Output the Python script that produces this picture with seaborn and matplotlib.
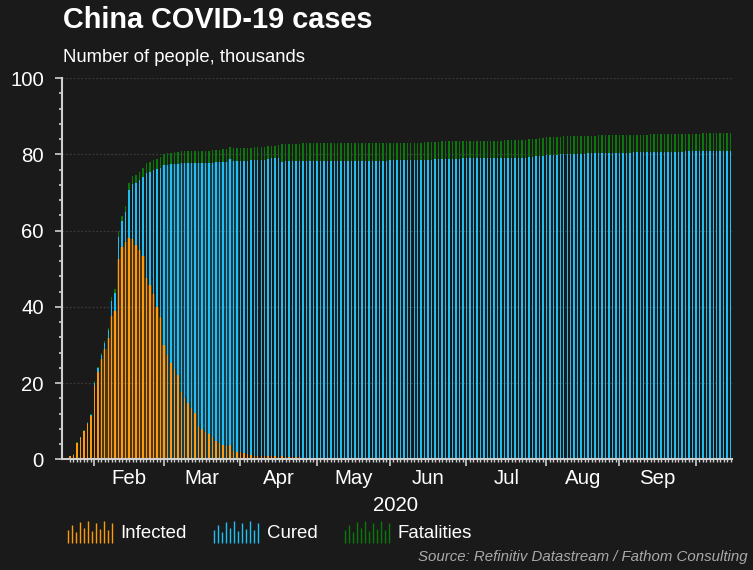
import numpy as np
import pandas as pd
import matplotlib
matplotlib.use("Agg")
import matplotlib.pyplot as plt
import matplotlib.transforms as mtransforms
from matplotlib.legend_handler import HandlerBase
from matplotlib.lines import Line2D
from matplotlib.patches import Patch
from matplotlib.ticker import FixedLocator, MultipleLocator, NullFormatter
import seaborn as sns

# ---------------- data (thousands of people, business days) ----------------
start_date = "2020-01-23"
end_date = "2020-10-15"

confirmed = [
    # Jan
    0.830, 1.287, 4.515, 5.974, 7.711, 9.692, 11.791,
    # Feb
    20.438, 24.324, 28.018, 31.161, 34.546, 42.638, 44.653, 59.804, 63.851, 66.492,
    72.436, 74.185, 74.576, 75.465, 76.288, 77.658, 78.064, 78.497, 78.824, 79.251,
    # Mar
    80.151, 80.270, 80.409, 80.552, 80.651, 80.754, 80.778, 80.793, 80.813, 80.824,
    80.860, 80.894, 80.928, 80.967, 81.008, 81.171, 81.218, 81.285, 81.340, 81.950,
    81.518, 81.554,
    # Apr
    81.589, 81.620, 81.639, 81.740, 81.802, 81.865, 81.907, 81.953, 82.160, 82.249,
    82.295, 82.341, 82.692, 82.747, 82.758, 82.788, 82.798, 82.804, 82.830, 82.836,
    82.858, 82.862,
    # May
    82.874, 82.880, 82.881, 82.883, 82.885, 82.886, 82.918, 82.919, 82.926, 82.929,
    82.933, 82.954, 82.960, 82.965, 82.967, 82.971, 82.985, 82.992, 82.993, 82.995,
    83.001,
    # Jun
    83.017, 83.021, 83.022, 83.027, 83.030, 83.040, 83.043, 83.046, 83.057, 83.064,
    83.181, 83.221, 83.265, 83.293, 83.325, 83.396, 83.418, 83.430, 83.449, 83.462,
    83.512, 83.531,
    # Jul
    83.534, 83.537, 83.542, 83.565, 83.572, 83.581, 83.585, 83.587, 83.602, 83.605,
    83.612, 83.622, 83.644, 83.693, 83.707, 83.729, 83.750, 83.784, 83.891, 83.959,
    84.060, 84.165, 84.292,
    # Aug
    84.464, 84.491, 84.528, 84.565, 84.596, 84.668, 84.688, 84.712, 84.737, 84.756,
    84.808, 84.827, 84.849, 84.871, 84.888, 84.951, 84.967, 84.981, 85.004, 85.013,
    85.058,
    # Sep
    85.066, 85.077, 85.087, 85.097, 85.134, 85.144, 85.153, 85.163, 85.174, 85.194,
    85.202, 85.214, 85.223, 85.255, 85.291, 85.297, 85.307, 85.322, 85.337, 85.384,
    85.403, 85.414,
    # Oct
    85.424, 85.434, 85.470, 85.475, 85.485, 85.494, 85.505, 85.557, 85.568, 85.578,
    85.591,
]

fatalities = [
    # Jan
    0.025, 0.041, 0.106, 0.132, 0.170, 0.213, 0.259,
    # Feb
    0.425, 0.490, 0.563, 0.636, 0.722, 1.016, 1.113, 1.367, 1.380, 1.523,
    1.868, 2.004, 2.118, 2.236, 2.345, 2.663, 2.715, 2.744, 2.788, 2.835,
    # Mar
    2.943, 2.981, 3.012, 3.042, 3.070, 3.136, 3.158, 3.169, 3.176, 3.189,
    3.213, 3.226, 3.245, 3.248, 3.255, 3.277, 3.281, 3.287, 3.292, 3.295,
    3.305, 3.312,
    # Apr
    3.318, 3.322, 3.326, 3.331, 3.333, 3.335, 3.336, 3.339, 3.341, 3.341,
    3.342, 3.342, 4.632, 4.632, 4.632, 4.632, 4.632, 4.632, 4.633, 4.633,
    4.633, 4.633,
    # May
    4.633, 4.633, 4.633, 4.633, 4.633, 4.633, 4.633, 4.633, 4.633, 4.633,
    4.634, 4.634, 4.634, 4.634, 4.634, 4.634, 4.634, 4.634, 4.634, 4.634,
    4.634,
    # Jun
    4.634, 4.634, 4.634, 4.634, 4.634, 4.634, 4.634, 4.634, 4.634, 4.634,
    4.634, 4.634, 4.634, 4.634, 4.634, 4.634, 4.634, 4.634, 4.634, 4.634,
    4.634, 4.634,
    # Jul
    4.634, 4.634, 4.634, 4.634, 4.634, 4.634, 4.634, 4.634, 4.634, 4.634,
    4.634, 4.634, 4.634, 4.634, 4.634, 4.634, 4.634, 4.634, 4.634, 4.634,
    4.634, 4.634, 4.634,
    # Aug
    4.634, 4.634, 4.634, 4.634, 4.634, 4.634, 4.634, 4.634, 4.634, 4.634,
    4.634, 4.634, 4.634, 4.634, 4.634, 4.634, 4.634, 4.634, 4.634, 4.634,
    4.634,
    # Sep
    4.634, 4.634, 4.634, 4.634, 4.634, 4.634, 4.634, 4.634, 4.634, 4.634,
    4.634, 4.634, 4.634, 4.634, 4.634, 4.634, 4.634, 4.634, 4.634, 4.634,
    4.634, 4.634,
    # Oct
    4.634, 4.634, 4.634, 4.634, 4.634, 4.634, 4.634, 4.634, 4.634, 4.634,
    4.634,
]

infected = [
    # Jan
    0.771, 1.208, 4.349, 5.739, 7.417, 9.308, 11.289,
    # Feb
    19.381, 22.942, 26.302, 28.985, 31.774, 37.626, 38.800, 52.526, 55.748, 56.873,
    58.016, 57.805, 56.303, 54.965, 53.284, 47.672, 45.604, 43.258, 39.919, 37.414,
    # Mar
    30.004, 27.433, 25.352, 23.784, 22.177, 17.721, 16.145, 14.831, 13.526, 12.094,
    8.8, 7.9, 7.2, 6.6, 5.8, 4.9, 4.3, 3.8, 3.6, 3.7,
    2.1, 1.9,
    # Apr
    1.9, 1.6, 1.4, 1.1, 1.0, 1.0, 0.9, 0.8, 1.0, 0.8,
    0.85, 0.75, 0.8, 0.7, 0.65, 0.6, 0.55, 0.5, 0.45, 0.45,
    0.4, 0.4,
    # May
    0.35, 0.3, 0.28, 0.25, 0.22, 0.2, 0.15, 0.13, 0.12, 0.11,
    0.1, 0.09, 0.09, 0.08, 0.08, 0.08, 0.07, 0.07, 0.07, 0.06,
    0.06,
    # Jun
    0.06, 0.06, 0.06, 0.06, 0.06, 0.06, 0.06, 0.06, 0.07, 0.08,
    0.15, 0.17, 0.2, 0.22, 0.25, 0.28, 0.35, 0.36, 0.38, 0.38,
    0.4, 0.4,
    # Jul
    0.4, 0.38, 0.38, 0.36, 0.35, 0.34, 0.32, 0.3, 0.2, 0.18,
    0.17, 0.16, 0.16, 0.17, 0.18, 0.19, 0.2, 0.22, 0.26, 0.3,
    0.36, 0.4, 0.42,
    # Aug
    0.45, 0.45, 0.46, 0.46, 0.46, 0.45, 0.44, 0.42, 0.4, 0.4,
    0.38, 0.35, 0.25, 0.22, 0.2, 0.18, 0.17, 0.16, 0.15, 0.15,
    0.14,
    # Sep
    0.14, 0.14, 0.13, 0.13, 0.13, 0.12, 0.12, 0.12, 0.12, 0.12,
    0.11, 0.11, 0.11, 0.11, 0.11, 0.11, 0.11, 0.11, 0.11, 0.11,
    0.11, 0.11,
    # Oct
    0.11, 0.11, 0.11, 0.12, 0.12, 0.12, 0.12, 0.13, 0.13, 0.13,
    0.13,
]

series_labels = ["Infected", "Cured", "Fatalities"]
month_names = ["Jan", "Feb", "Mar", "Apr", "May", "Jun", "Jul", "Aug", "Sep", "Oct"]
year_label = "2020"
title_text = "China COVID-19 cases"
subtitle_text = "Number of people, thousands"
source_text = "Source: Refinitiv Datastream / Fathom Consulting"

# ---------------- style ----------------
BG = "#1a1a1a"
ORANGE = "#FF9A0A"
BLUE = "#1CC0F4"
GREEN = "#0A780A"
AXIS_COL = "#cfcfcf"
TICK_FS = 14.7

sns.set_theme(style="dark")
plt.rcParams["font.family"] = ["Liberation Sans", "DejaVu Sans"]
plt.rcParams["axes.facecolor"] = BG
plt.rcParams["figure.facecolor"] = BG

dates = pd.bdate_range(start_date, end_date)
n = len(dates)
assert n == len(confirmed) == len(fatalities) == len(infected)

conf = np.array(confirmed)
fat = np.array(fatalities)
inf = np.array(infected)
cured = conf - fat - inf

df = pd.DataFrame({
    "pos": np.arange(n),
    "total": conf,                 # infected + cured + fatalities
    "inf_cured": inf + cured,      # infected + cured
    "infected": inf,
})

# faint "glow" between bars seen in the reference rendering
glow_inf = df["infected"].where((df["pos"] >= 9) & (df["pos"] <= 27))
glow_cur = df["inf_cured"].where((df["pos"] >= 27) & (df["pos"] <= 48))
df["glow_inf"] = glow_inf
df["glow_cur"] = glow_cur

W, H = 753, 570
fig = plt.figure(figsize=(W / 100, H / 100), dpi=100, facecolor=BG)
ax_l, ax_r, ax_t, ax_b = 62, 731.7, 78, 459.4
ax = fig.add_axes([ax_l / W, 1 - ax_b / H, (ax_r - ax_l) / W, (ax_b - ax_t) / H])
ax.set_facecolor(BG)

sns.barplot(data=df, x="pos", y="glow_cur", color=BLUE, width=1.0, linewidth=0,
            saturation=1, errorbar=None, ax=ax, alpha=0.2)
sns.barplot(data=df, x="pos", y="glow_inf", color=ORANGE, width=1.0, linewidth=0,
            saturation=1, errorbar=None, ax=ax, alpha=0.22)

bw = 0.42
sns.barplot(data=df, x="pos", y="total", color=GREEN, width=bw, linewidth=0,
            saturation=1, errorbar=None, ax=ax)
sns.barplot(data=df, x="pos", y="inf_cured", color=BLUE, width=bw, linewidth=0,
            saturation=1, errorbar=None, ax=ax)
sns.barplot(data=df, x="pos", y="infected", color=ORANGE, width=bw, linewidth=0,
            saturation=1, errorbar=None, ax=ax)

ax.set_xlim(-2.3, n - 1 + 0.3)
ax.set_ylim(0, 100)
ax.set_xlabel("")
ax.set_ylabel("")

# month-start ticks (major) and daily ticks (minor)
months = dates.month.values
month_starts = [i for i in range(1, n) if months[i] != months[i - 1]]
ax.xaxis.set_major_locator(FixedLocator(month_starts))
ax.xaxis.set_minor_locator(FixedLocator(list(range(n))))
ax.xaxis.set_major_formatter(NullFormatter())
ax.xaxis.set_minor_formatter(NullFormatter())

ax.yaxis.set_major_locator(MultipleLocator(20))
ax.yaxis.set_minor_locator(MultipleLocator(4))
ax.tick_params(axis="y", which="major", direction="out", length=5, width=1.2,
               color=AXIS_COL, labelcolor="white", labelsize=TICK_FS, pad=8.0)
ax.tick_params(axis="y", which="minor", direction="out", length=2.5, width=1.2,
               color=AXIS_COL)
ax.tick_params(axis="x", which="major", direction="out", length=5, width=1.2,
               color=AXIS_COL)
ax.tick_params(axis="x", which="minor", direction="out", length=2.5, width=1.0,
               color=AXIS_COL)
ax.tick_params(left=True, bottom=True, which="both")

for s in ["top", "right"]:
    ax.spines[s].set_visible(False)
for s in ["left", "bottom"]:
    ax.spines[s].set_visible(True)
    ax.spines[s].set_color(AXIS_COL)
    ax.spines[s].set_linewidth(1.5)

ax.grid(False)
ax.yaxis.grid(True, which="major", linestyle=(0, (1.5, 1.5)), color="#3a3a3a", linewidth=0.9)
ax.set_axisbelow(True)

# month labels centred within each complete month
trans = mtransforms.blended_transform_factory(ax.transData, ax.transAxes)
for k in range(len(month_starts) - 1):
    s, e = month_starts[k], month_starts[k + 1]
    name = month_names[months[s] - 1]
    ax.text((s + e) / 2, -(484.5 - ax_b) / (ax_b - ax_t), name, transform=trans,
            ha="center", va="baseline", color="white", fontsize=TICK_FS)

fig.text(395 / W, 1 - 511 / H, year_label, ha="center", va="baseline",
         color="white", fontsize=TICK_FS)

fig.text(63 / W, 1 - 28.5 / H, title_text, ha="left", va="baseline",
         color="white", fontsize=20.8, fontweight="bold")
fig.text(63 / W, 1 - 62.3 / H, subtitle_text, ha="left", va="baseline",
         color="white", fontsize=13.3)
fig.text(748 / W, 1 - 561.5 / H, source_text, ha="right", va="baseline",
         color="#a9a9a9", fontsize=10.8, fontstyle="italic")


# legend with mini bar-series icons
class BarsHandler(HandlerBase):
    heights = [0.6, 0.85, 0.5, 0.95, 0.7, 1.0, 0.55, 0.9, 0.65, 1.0, 0.6, 0.9]

    def create_artists(self, legend, orig_handle, xdescent, ydescent, width,
                       height, fontsize, trans):
        col = orig_handle.get_facecolor()
        x0, y0 = -xdescent, -ydescent - 0.3 * height
        m = len(self.heights)
        arts = []
        for k, h in enumerate(self.heights):
            x = x0 + k * width / (m - 1)
            ln = Line2D([x, x], [y0, y0 + h * height * 1.5], color=col,
                        linewidth=1.0, transform=trans, solid_capstyle="butt")
            arts.append(ln)
        return arts


handles = [Patch(facecolor=c) for c in (ORANGE, BLUE, GREEN)]
hmap = {h: BarsHandler() for h in handles}
fig.legend(handles=handles, labels=series_labels, handler_map=hmap,
           loc="center left", bbox_to_anchor=(68 / W, 1 - 533 / H), ncol=3,
           frameon=False, fontsize=13.4, labelcolor="white", handlelength=2.35,
           handleheight=0.8, handletextpad=0.45, columnspacing=1.5,
           borderpad=0, borderaxespad=0)

fig.savefig("out.png", dpi=100, facecolor=BG)
